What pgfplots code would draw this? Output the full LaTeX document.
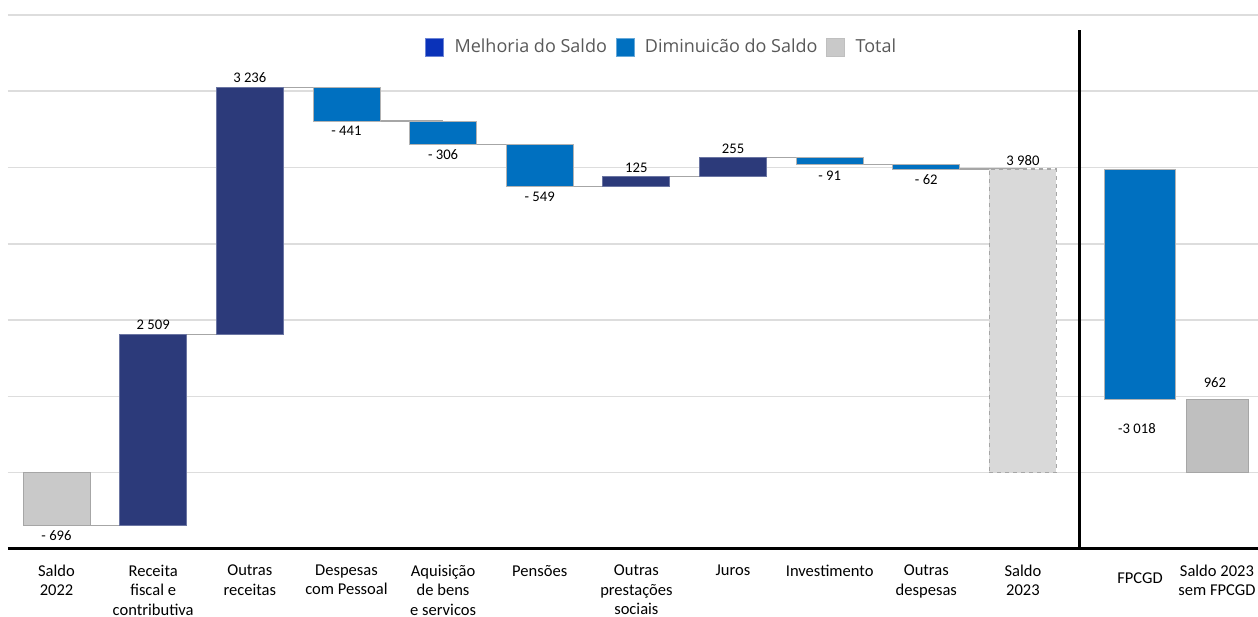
\documentclass[border=0pt]{standalone}
\usepackage{fontspec}
\setmainfont{Carlito}
\newfontfamily\legfont{Open Sans}
\usepackage{pgfplots}
\pgfplotsset{compat=1.18}
\definecolor{navy}{HTML}{2C3A7A}
\definecolor{dimblue}{HTML}{0070C0}
\definecolor{melh}{HTML}{0A32B9}
\definecolor{gtot}{HTML}{C9C9C9}
\definecolor{gtotb}{HTML}{D9D9D9}
\definecolor{gsem}{HTML}{BFBFBF}
\definecolor{gedge}{HTML}{A6A6A6}
\definecolor{gridc}{HTML}{DDDDDD}
\definecolor{legtext}{HTML}{595959}
\tikzset{lab/.style={font=\fontsize{11}{13}\selectfont, inner sep=1pt}}
\begin{document}
\begin{tikzpicture}
\useasboundingbox (0,0) rectangle (943.5pt,462.75pt);
\begin{axis}[
  scale only axis, width=937.5pt, height=400.6pt,
  at={(6pt,51pt)}, anchor=south west,
  xmin=-0.502, xmax=12.432, ymin=-1000, ymax=6000,
  separate axis lines,
  axis x line*=bottom, axis y line*=left,
  x axis line style={-, line width=2.25pt, black},
  y axis line style={draw=none},
  ytick={0,1000,2000,3000,4000,5000,6000},
  yticklabels={},
  ymajorgrids, grid style={gridc, line width=1.1pt},
  xtick={0,1,2,3,4,5,6,7,8,9,10,11.211,12.007},
  xticklabels={{Saldo\\2022},{Receita\\fiscal e\\contributiva},{Outras\\receitas},{Despesas\\com Pessoal},{Aquisição\\de bens\\e servicos},{Pensões},{Outras\\prestações\\sociais},{Juros},{Investimento},{Outras\\despesas},{Saldo\\2023},{\raisebox{-6pt}[\height][0pt]{FPCGD}},{Saldo 2023\\sem FPCGD}},
  xticklabel style={align=center, anchor=north, font=\fontsize{12.4}{14.5}\selectfont, yshift=-8.5pt},
  major tick length=0pt, xtick style={draw=none}, ytick style={draw=none},
  clip=false,
  legend style={draw=none, fill=none, at={(0.5232,0.9400)}, anchor=center,
    legend columns=3, font=\legfont\fontsize{13.5}{16}\selectfont, text=legtext,
    /tikz/every odd column/.append style={column sep=6pt},
    /tikz/every even column/.append style={column sep=4.5pt}},
  legend image code/.code={\draw[#1] (0pt,-6.75pt) rectangle (13.5pt,6.75pt);},
  connector/.style={gedge, line width=0.9pt, forget plot},
  navybar/.style={fill=navy, draw=navy!70!white, line width=0.6pt, forget plot},
  bluebar/.style={fill=dimblue, draw=gray!60, line width=0.5pt, forget plot},
]
\addlegendimage{fill=melh, draw=melh!60!white, line width=0.5pt}
\addlegendentry{Melhoria do Saldo}
\addlegendimage{fill=dimblue, draw=dimblue!60!white, line width=0.5pt}
\addlegendentry{Diminuicão do Saldo}
\addlegendimage{fill=gtot, draw=gsem, line width=0.5pt}
\addlegendentry{Total}

% connectors (running totals)
\addplot[connector, unbounded coords=jump] table {
x y
0 -696
1 -696
1 nan
1 1813
2 1813
2 nan
2 5049
3 5049
3 nan
3 4608
4 4608
4 nan
4 4302
5 4302
5 nan
5 3753
6 3753
6 nan
6 3878
7 3878
7 nan
7 4133
8 4133
8 nan
8 4042
9 4042
9 nan
9 3980
10 3980
};

% bars
\addplot[fill=gtot, draw=gedge, line width=0.6pt, forget plot] coordinates {(-0.3466,-696) (0.3466,-696) (0.3466,0) (-0.3466,0)} -- cycle;
\addplot[navybar] coordinates {(0.6534,-696) (1.3466,-696) (1.3466,1813) (0.6534,1813)} -- cycle;
\addplot[navybar] coordinates {(1.6534,1813) (2.3466,1813) (2.3466,5049) (1.6534,5049)} -- cycle;
\addplot[bluebar] coordinates {(2.6534,4608) (3.3466,4608) (3.3466,5049) (2.6534,5049)} -- cycle;
\addplot[bluebar] coordinates {(3.6534,4302) (4.3466,4302) (4.3466,4608) (3.6534,4608)} -- cycle;
\addplot[bluebar] coordinates {(4.6534,3753) (5.3466,3753) (5.3466,4302) (4.6534,4302)} -- cycle;
\addplot[navybar] coordinates {(5.6534,3753) (6.3466,3753) (6.3466,3878) (5.6534,3878)} -- cycle;
\addplot[navybar] coordinates {(6.6534,3878) (7.3466,3878) (7.3466,4133) (6.6534,4133)} -- cycle;
\addplot[bluebar] coordinates {(7.6534,4042) (8.3466,4042) (8.3466,4133) (7.6534,4133)} -- cycle;
\addplot[bluebar] coordinates {(8.6534,3980) (9.3466,3980) (9.3466,4042) (8.6534,4042)} -- cycle;
\addplot[fill=gtotb, draw=gedge, dashed, line width=1pt, forget plot] coordinates {(9.6534,0) (10.3466,0) (10.3466,3980) (9.6534,3980)} -- cycle;
\addplot[bluebar] coordinates {(10.838,962) (11.573,962) (11.573,3980) (10.838,3980)} -- cycle;
\addplot[fill=gsem, draw=gedge, line width=0.6pt, forget plot] coordinates {(11.687,0) (12.328,0) (12.328,962) (11.687,962)} -- cycle;

% separator
\addplot[black, line width=2.25pt, forget plot] coordinates {(10.59,-1000) (10.59,5806)};

% value labels
\node[lab, yshift=-7.5pt] at (axis cs:0,-696) {- 696};
\node[lab, yshift=7pt] at (axis cs:1,1813) {2 509};
\node[lab, yshift=7.5pt] at (axis cs:2,5049) {3 236};
\node[lab, yshift=-7.5pt] at (axis cs:3,4608) {- 441};
\node[lab, yshift=-7.5pt] at (axis cs:4,4302) {- 306};
\node[lab, yshift=-7.5pt] at (axis cs:5,3753) {- 549};
\node[lab, yshift=6.75pt] at (axis cs:6,3878) {125};
\node[lab, yshift=6.75pt] at (axis cs:7,4133) {255};
\node[lab, yshift=-8.25pt] at (axis cs:8,4042) {- 91};
\node[lab, yshift=-8.25pt] at (axis cs:9,3980) {- 62};
\node[lab, yshift=6.5pt] at (axis cs:10,3980) {3 980};
\node[lab, yshift=-22pt] at (axis cs:11.18,962) {-3 018};
\node[lab, yshift=12.75pt] at (axis cs:11.986,962) {962};
\end{axis}
\end{tikzpicture}
\end{document}
